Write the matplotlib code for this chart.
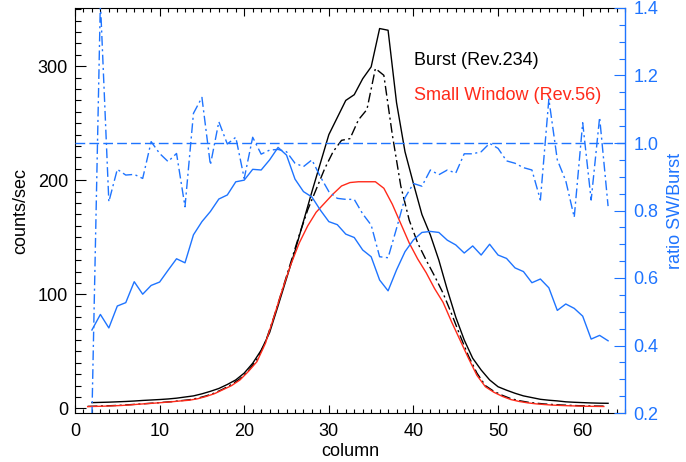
import matplotlib.pyplot as plt
from matplotlib.ticker import MultipleLocator
import numpy as np

plt.rcParams['font.family'] = ['Liberation Sans', 'DejaVu Sans']

BLUE = '#1e74ff'
RED = '#ff2a1a'

# columns of the burst profile
col = np.arange(2, 64)
# small window / scaled profiles sit half a column to the left
col_sw = col - 0.5

burst = [5.1, 5.3, 5.5, 5.8, 6.1, 6.5, 7.0, 7.4, 7.8, 8.3,
         9.0, 10.0, 11.0, 12.8, 15.0, 17.5, 21.0, 25.0, 31.0, 39.6,
         51.0, 66.5, 90.0, 114.0, 138.0, 164.0, 190.0, 215.0, 240.0, 255.0,
         270.0, 275.0, 289.0, 299.4, 333.0, 331.5, 268.0, 225.0, 197.0, 170.0,
         152.0, 130.0, 104.0, 80.0, 60.0, 44.0, 33.7, 25.0, 19.0, 16.0,
         13.3, 11.0, 9.5, 8.0, 7.2, 6.6, 5.8, 5.4, 5.1, 4.8,
         4.6, 4.5]

burst_scaled = [1.8, 2.0, 2.2, 2.5, 2.8, 3.3, 3.8, 4.3, 4.8, 5.4,
                6.0, 6.8, 7.6, 9.0, 11.0, 13.5, 17.0, 21.0, 26.0, 33.0,
                43.0, 58.0, 80.0, 104.0, 128.0, 152.0, 174.0, 192.0, 210.0, 225.0,
                235.0, 236.5, 253.0, 262.0, 298.0, 292.0, 240.0, 195.0, 165.0, 145.0,
                130.0, 116.0, 101.0, 83.0, 64.0, 46.0, 31.0, 20.0, 15.0, 11.5,
                8.6, 6.8, 5.5, 4.6, 3.9, 3.4, 3.0, 2.7, 2.4, 2.2,
                2.1, 2.0]

small_window = [1.6, 1.8, 2.0, 2.3, 2.6, 3.1, 3.7, 4.2, 4.7, 5.3,
                5.9, 6.6, 7.2, 8.5, 10.5, 13.0, 16.5, 20.0, 25.0, 32.5,
                41.0, 57.0, 80.0, 104.0, 126.0, 145.0, 160.0, 172.0, 180.0, 188.0,
                195.0, 198.0, 198.7, 198.7, 198.7, 193.0, 179.0, 162.0, 145.0, 131.0,
                119.0, 105.0, 93.0, 76.0, 60.0, 44.0, 29.0, 19.0, 14.2, 10.6,
                7.8, 6.1, 4.9, 4.0, 3.4, 2.9, 2.6, 2.3, 2.1, 1.9,
                1.8, 1.7]

ratio = [0.19, 1.42, 0.826, 0.922, 0.905, 0.907, 0.895, 1.004, 0.969, 0.945,
         0.969, 0.811, 1.088, 1.135, 0.935, 1.063, 0.997, 1.017, 0.895, 1.017,
         0.967, 0.979, 0.981, 0.974, 0.940, 0.930, 0.950, 0.900, 0.856, 0.836,
         0.833, 0.833, 0.790, 0.757, 0.663, 0.660, 0.747, 0.838, 0.880, 0.872,
         0.920, 0.906, 0.920, 0.911, 0.968, 0.968, 0.974, 0.999, 0.984, 0.947,
         0.940, 0.927, 0.920, 0.831, 1.130, 0.950, 0.888, 0.780, 1.060, 0.831,
         1.076, 0.813]

ratio_smooth = [0.446, 0.492, 0.452, 0.517, 0.527, 0.589, 0.552, 0.578, 0.588, 0.623,
                0.657, 0.645, 0.728, 0.767, 0.797, 0.834, 0.846, 0.885, 0.890, 0.922,
                0.920, 0.950, 0.987, 0.964, 0.893, 0.856, 0.840, 0.801, 0.767, 0.758,
                0.730, 0.720, 0.683, 0.663, 0.594, 0.562, 0.624, 0.678, 0.713, 0.735,
                0.738, 0.735, 0.712, 0.698, 0.674, 0.695, 0.668, 0.700, 0.668, 0.658,
                0.630, 0.619, 0.586, 0.597, 0.571, 0.504, 0.523, 0.510, 0.487, 0.419,
                0.430, 0.414]

fig = plt.figure(figsize=(6.86, 4.62), dpi=100)
ax = fig.add_axes([75/686, 49/462, 550/686, 405/462])
ax2 = ax.twinx()

lw = 1.0
ax.plot(col, burst, color='black', lw=lw)
ax.plot(col_sw, burst_scaled, color='black', lw=lw, linestyle=(0, (7, 2.5, 1.5, 2.5)))
ax.plot(col_sw, small_window, color=RED, lw=lw)

ax2.plot(col, ratio_smooth, color=BLUE, lw=lw)
ax2.plot(col, ratio, color=BLUE, lw=lw, linestyle=(0, (7, 2.5, 1.5, 2.5)))
ax2.axhline(1.0, color=BLUE, lw=lw, linestyle=(0, (7, 3)))

ax.set_xlim(0, 65)
ax.set_ylim(-4, 351)
ax2.set_ylim(0.2, 1.4)

ax.xaxis.set_major_locator(MultipleLocator(10))
ax.xaxis.set_minor_locator(MultipleLocator(1))
ax.yaxis.set_major_locator(MultipleLocator(100))
ax.yaxis.set_minor_locator(MultipleLocator(10))
ax2.yaxis.set_major_locator(MultipleLocator(0.2))
ax2.yaxis.set_minor_locator(MultipleLocator(0.05))

ax.tick_params(axis='x', which='both', direction='in', top=True, bottom=True, labelsize=13, pad=7)
ax.tick_params(axis='x', which='major', length=6, width=0.8)
ax.tick_params(axis='x', which='minor', length=3, width=0.8)
ax.tick_params(axis='y', which='both', direction='in', left=True, right=False, labelsize=13, pad=5)
ax.tick_params(axis='y', which='major', length=8, width=0.8)
ax.tick_params(axis='y', which='minor', length=4, width=0.8)

ax2.tick_params(axis='y', which='both', direction='in', colors=BLUE, labelsize=13, pad=6)
ax2.tick_params(axis='y', which='major', length=8, width=0.8)
ax2.tick_params(axis='y', which='minor', length=4, width=0.8)
ax2.spines['right'].set_color(BLUE)
ax.spines['right'].set_visible(False)
for sp in ['left', 'top', 'bottom']:
    ax2.spines[sp].set_visible(False)
    ax.spines[sp].set_linewidth(0.8)
ax2.spines['right'].set_linewidth(1.0)

ax2.set_yticklabels(['%.1f' % v for v in ax2.get_yticks()])

ax.set_xlabel('column', fontsize=13, labelpad=2)
ax.set_ylabel('counts/sec', fontsize=13, labelpad=6)
ax2.set_ylabel('ratio SW/Burst', fontsize=13, color=BLUE, labelpad=6)

ax.text(40.1, 305, 'Burst (Rev.234)', fontsize=13, color='black', va='center')
ax.text(40.1, 274.5, 'Small Window (Rev.56)', fontsize=13, color=RED, va='center')

fig.savefig('out.png', dpi=100)
